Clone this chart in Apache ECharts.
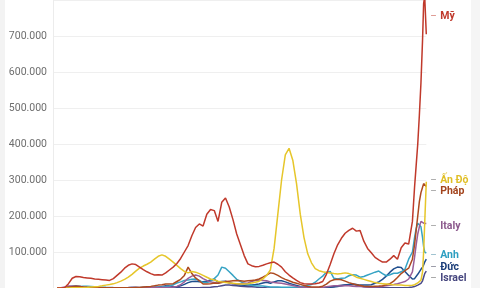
<!DOCTYPE html>
<html><head><meta charset="utf-8">
<script src="https://cdn.jsdelivr.net/npm/echarts@6/dist/echarts.min.js"></script>
<style>html,body{margin:0;padding:0;background:#fff}#c{width:480px;height:288px}</style>
</head><body><div id="c"></div><script>
// x categories (dates); values are 7-day average new cases, in thousands
const dates = [
'2020-03-01','2020-03-08','2020-03-15','2020-03-22','2020-03-29','2020-04-05','2020-04-12','2020-04-19','2020-04-26','2020-05-03',
'2020-05-10','2020-05-17','2020-05-24','2020-05-31','2020-06-07','2020-06-14','2020-06-21','2020-06-28','2020-07-05','2020-07-12',
'2020-07-19','2020-07-26','2020-08-02','2020-08-09','2020-08-16','2020-08-23','2020-08-30','2020-09-06','2020-09-13','2020-09-20',
'2020-09-27','2020-10-04','2020-10-11','2020-10-18','2020-10-25','2020-11-01','2020-11-08','2020-11-15','2020-11-22','2020-11-29',
'2020-12-06','2020-12-13','2020-12-20','2020-12-27','2021-01-03','2021-01-10','2021-01-17','2021-01-24','2021-01-31','2021-02-07',
'2021-02-14','2021-02-21','2021-02-28','2021-03-07','2021-03-14','2021-03-21','2021-03-28','2021-04-04','2021-04-11','2021-04-18',
'2021-04-25','2021-05-02','2021-05-09','2021-05-16','2021-05-23','2021-05-30','2021-06-06','2021-06-13','2021-06-20','2021-06-27',
'2021-07-04','2021-07-11','2021-07-18','2021-07-25','2021-08-01','2021-08-08','2021-08-15','2021-08-22','2021-08-29','2021-09-05',
'2021-09-12','2021-09-19','2021-09-26','2021-10-03','2021-10-10','2021-10-17','2021-10-24','2021-10-31','2021-11-07','2021-11-14',
'2021-11-21','2021-11-28','2021-12-05','2021-12-12','2021-12-19','2021-12-26','2021-12-30','2022-01-02','2022-01-05','2022-01-08',
'2022-01-11','2022-01-14','2022-01-16','2022-01-18','2022-01-21'];

const casesUS = [0,0.2,1.5,12,27,32,31,29,28,27, 25,24,23,22,21,26,35,44,55,63, 67,65,58,51,45,40,36,37,36,42,
 50,58,68,82,100,118,145,168,178,172, 205,218,215,185,238,250,225,190,150,120, 90,67,62,59,60,63,67,70,72,66,
 58,45,36,28,21,15,12,11,11,12, 14,18,38,65,95,120,138,152,160,166, 158,160,130,110,98,85,78,72,72,80,
 90,80,112,125,122,185, 280,340,400,480,570,690,790,810,705];
const casesIndia = [0,0,0.1,0.3,0.8,0.5,1,1.3,1.8,2.8, 3.7,4.5,6,8,9.5,11.5,15,19,24,30, 38,47,55,61,66,72,80,88,92,88,
 80,72,63,54,46,42,46,44,40,35, 30,25,22,19,17,15,14,13,12,11, 11,12,14,16,19,25,35,50,110,205,
 300,370,388,355,290,205,140,95,70,54, 48,45,43,42,40,39,40,42,40,36, 30,27,24,21,18,15,13,12,11,10,
 9,8.5,8,7,7,7.5, 9,11,14,16,22,45,100,180,295];
const casesFrance = [0,0,0.5,2,3.5,5,4,3,2,1.2, 0.9,0.5,0.4,0.5,0.5,0.4,0.5,0.6,0.6,0.8, 0.9,1.2,1.5,2.5,3.5,4.5,6,8,9,11,
 11,12,18,24,35,58,40,28,20,11, 11,12,14,13,15,18,19,20,21,20, 19,20,21,22,25,30,36,42,40,35,
 29,24,20,16,13,10,7,4,2.5,2.5, 3,5,11,19,23,24,23,19,15,12, 9,7,5,4.5,4.5,5,5.5,6.5,9,12,
 19,29,40,48,55,80, 120,160,200,240,265,280,290,295,282];
const casesItaly = [0.2,0.9,2.5,5.5,5,4.4,4,3,2.2,1.5, 1,0.7,0.5,0.3,0.3,0.3,0.2,0.2,0.2,0.2, 0.25,0.3,0.35,0.5,0.8,1.1,1.4,1.5,1.5,1.6,
 1.8,2.5,4.5,9,17,27,33,36,33,26, 21,17,15,13,17,17,14,12,12,12, 13,14,18,21,22,21,20,17,15,14,
 13,11,9,7,4.5,3,2.2,1.4,0.9,0.8, 1,1.8,3.5,5,6,6,5.5,6,6,5, 4.5,4,3.5,3,2.7,2.7,3.5,4.5,6,7.5,
 9.5,12,15,18,25,45, 85,120,150,170,185,186,180,178,179];
const casesUK = [0,0,0.2,0.8,2.5,4,4.5,4.8,4.8,4.5, 3.8,3,2.4,1.8,1.5,1.2,1,0.9,0.7,0.6, 0.65,0.75,0.8,0.95,1,1.1,1.3,2.5,3.2,4,
 5.5,9,14,17,21,22,24,25,21,15, 15,18,26,36,58,55,45,35,24,18, 13,10.5,8,6.5,5.5,5.5,4.5,3,2.8,2.5,
 2.2,2.3,2.2,2.3,2.8,3.5,5,7.5,10,16, 25,33,44,46,27,25,27,28,34,37, 36,30,32,36,40,44,47,40,34,37,
 41,41,45,52,80,100, 140,165,180,182,170,140,115,100,97];
const casesGermany = [0,0.1,0.8,3.5,5,5.5,4,2.5,1.6,1, 0.8,0.6,0.5,0.4,0.35,0.5,0.55,0.4,0.35,0.4, 0.55,0.7,0.9,1.1,1.3,1.4,1.3,1.2,1.5,1.8,
 2,2.5,3.5,6,10,15,18,18.5,17.5,17.5, 19,22,24,17,18,19,15,12,10,8.5, 7.5,8,8.5,9.5,11,14,16,13,17,20,
 20,17,13,10,7,4,3,1.7,0.8,0.6, 0.7,0.9,1.5,2.2,3,4,6,8.5,10,11, 9.5,8,8,8.5,9,13,17,24,33,44,
 53,58,57,46,35,25, 26,30,38,45,52,58,64,72,80];
const casesIsrael = [0,0,0,0.1,0.4,0.5,0.4,0.3,0.2,0.1, 0.05,0.02,0.02,0.05,0.1,0.2,0.3,0.6,0.9,1.3, 1.8,1.8,1.7,1.6,1.5,1.7,2,3,4.5,6,
 6,4,2,1,0.7,0.7,0.6,0.7,0.8,1.2, 1.5,2,3.5,4.5,6.5,8.5,8,7,6.5,5, 4,3.8,3.3,2.5,1.5,0.8,0.5,0.3,0.2,0.15,
 0.1,0.07,0.05,0.03,0.02,0.02,0.02,0.03,0.1,0.2, 0.4,0.8,1.5,2.5,4,6,7.5,8.5,9,9.5, 8,6,3.5,2.5,1.5,1,0.7,0.6,0.5,0.5,
 0.5,0.6,0.6,0.8,1.2,2.5, 4,6,8,10,13,20,30,40,47];

const yTickValues = [100,200,300,400,500,600,700];
const yTickLabels = ['100.000','200.000','300.000','400.000','500.000','600.000','700.000'];

const seriesNames = ['Israel','Đức','Anh','Italy','Pháp','Ấn Độ','Mỹ'];
const seriesData = [casesIsrael, casesGermany, casesUK, casesItaly, casesFrance, casesIndia, casesUS];
const lineColors = ['#4a4a88','#1f4f8e','#36a3c4','#9a5e98','#ad4a20','#e6c62a','#c0392b'];
const labelColors = ['#47477f','#1b3d78','#2e9fc1','#8c5a8d','#a3441d','#e0bf27','#c0392b'];
const dashColors = ['#9a9a9a','#8a8a9a','#8fb8c8','#a0a0a0','#a0a0a0','#a0a0a0','#d98a82'];
const labelShift = [7,8,2,3,5,-1,-18];

const chart = echarts.init(document.getElementById('c'), null, {renderer:'canvas'});
const series = seriesNames.map((n,k)=>({
  name:n, type:'line', symbol:'none', smooth:false, silent:true,
  data: dates.map((d,i)=>[d, seriesData[k][i]]),
  lineStyle:{color:lineColors[k], width:1.5},
  itemStyle:{color:lineColors[k]},
  endLabel:{show:true, distance:4, offset:[0,labelShift[k]],
    formatter:'{d|–} {n|'+n+'}',
    rich:{d:{color:dashColors[k], fontSize:10, fontFamily:'Roboto'},
          n:{color:labelColors[k], fontSize:10.5, fontWeight:'bold', fontFamily:'Roboto'}}},
  emphasis:{disabled:true}
}));
chart.setOption({
  animation:false,
  backgroundColor:'#ffffff',
  graphic:[
    {type:'rect', left:0, top:0, shape:{width:5,height:288}, style:{fill:'#f3f3f3'}, z:-1},
    {type:'rect', left:471, top:0, shape:{width:9,height:288}, style:{fill:'#f5f5f5'}, z:-1}
  ],
  grid:{left:53, right:53.7, top:-8, bottom:-2.4, containLabel:false},
  xAxis:{type:'time', min:'2020-02-22', max:'2022-01-21', show:false},
  yAxis:{type:'value', min:0, max:800, interval:100,
    axisLine:{show:true, lineStyle:{color:'#ececec', width:1}},
    axisTick:{show:false},
    splitLine:{lineStyle:{color:'#efefef', width:1}},
    axisLabel:{margin:6, color:'#6e6e6e', fontSize:10.5, fontFamily:'Roboto',
      formatter:v=>{const i=yTickValues.indexOf(v); return i>=0?yTickLabels[i]:'';}}
  },
  series
});
</script></body></html>
